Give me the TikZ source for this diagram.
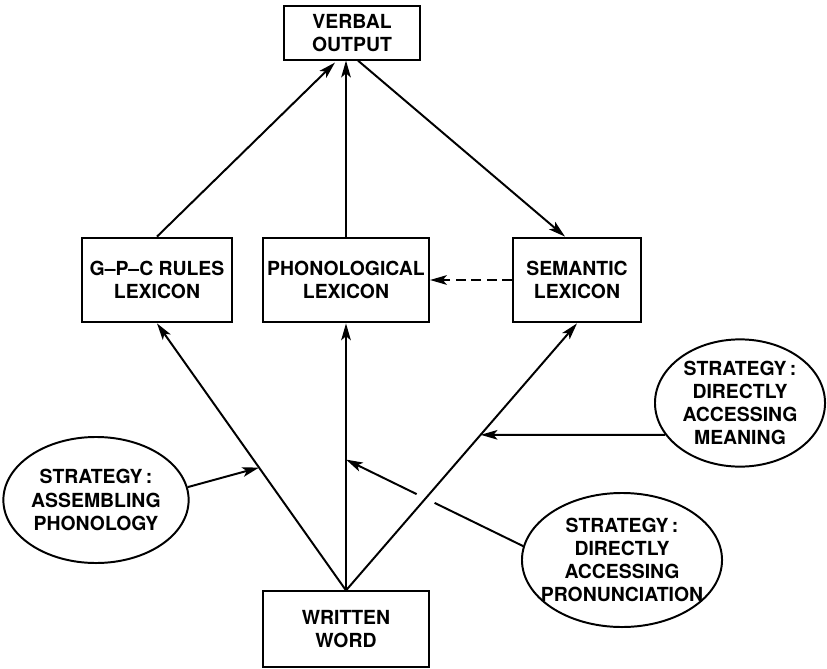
\documentclass[tikz,border=0pt]{standalone}
\usepackage{fontspec}
\setmainfont{TeX Gyre Heros}
\usetikzlibrary{calc,positioning,arrows.meta,shapes.geometric}

\begin{document}
\begin{tikzpicture}[x=0.025cm,y=-0.025cm,
    font=\fontsize{13.8}{16.5}\selectfont\bfseries,
    box/.style={draw,rectangle,line width=1.4pt,align=center,inner sep=2pt},
    strat/.style={draw,ellipse,line width=1.4pt,inner sep=0pt},
    arr/.style={line width=1.4pt,-{Stealth[length=4.2mm,width=2.4mm,inset=1mm]}},
    link/.style={line width=1.4pt}]

  \useasboundingbox (0,0) rectangle (827,669);

  \node [box,minimum width=3.4cm,minimum height=1.33cm] at (352,33) (output) {VERBAL\\OUTPUT};

  % lexicons
  \node [box,minimum width=3.75cm,minimum height=2.12cm] at (157,280) (gpc) {G--P--C RULES\\LEXICON};
  \node [box,minimum width=4.15cm,minimum height=2.12cm] at (346,280) (phon) {PHONOLOGICAL\\LEXICON};
  \node [box,minimum width=3.2cm,minimum height=2.12cm] at (577,280) (sem) {SEMANTIC\\LEXICON};

  \node [box,minimum width=4.15cm,minimum height=1.88cm] at (346,629) (word) {WRITTEN\\WORD};

  % strategies
  \node [strat,minimum width=4.63cm,minimum height=3.15cm,
    label={[align=center]center:STRATEGY\,:\\ASSEMBLING\\PHONOLOGY}] at (96,500) (assem) {};
  \node [strat,minimum width=4.25cm,minimum height=3.18cm,
    label={[align=center]center:STRATEGY\,:\\DIRECTLY\\ACCESSING\\MEANING}] at (740,403) (mean) {};
  \node [strat,minimum width=5cm,minimum height=3.35cm,
    label={[align=center]center:STRATEGY\,:\\DIRECTLY\\ACCESSING\\PRONUNCIATION}] at (622,560) (pron) {};

  % routes to the output
  \draw [arr,shorten >=2pt] (gpc.north) -- ($(output.south)+(-15,0)$);
  \draw [arr] (phon.north) -- (phon.north |- output.south);
  \draw [arr] ($(output.south)+(6,0)$) -- ($(sem.north)+(-12,0)$);
  \draw [arr,dash pattern=on 7pt off 4pt] (sem.west) -- (phon.east);

  % routes from the written word
  \draw [arr] (word.north) -- (gpc.south);
  \draw [arr] (word.north) -- (phon.south);
  \draw [arr] (word.north) -- (sem.south);

  \coordinate (onGpc) at ($(word.north)!0.46!(gpc.south)$);
  \coordinate (onPhon) at ($(word.north)!0.49!(phon.south)$);
  \coordinate (meanStart) at (mean.203);
  \coordinate (meanAim) at ($(meanStart)+(-10,0)$);
  \coordinate (onSem) at (intersection of word.north--sem.south and meanStart--meanAim);
  \coordinate (pronStart) at (pron.172);
  \coordinate (cross) at (intersection of word.north--sem.south and pronStart--onPhon);

  \draw [arr] (assem.8) -- (onGpc);
  \draw [arr] (meanStart) -- (onSem);
  \draw [link] (pronStart) -- ($(cross)!0.25cm!(pronStart)$);
  \draw [arr] ($(cross)!0.25cm!(onPhon)$) -- (onPhon);
\end{tikzpicture}
\end{document}
